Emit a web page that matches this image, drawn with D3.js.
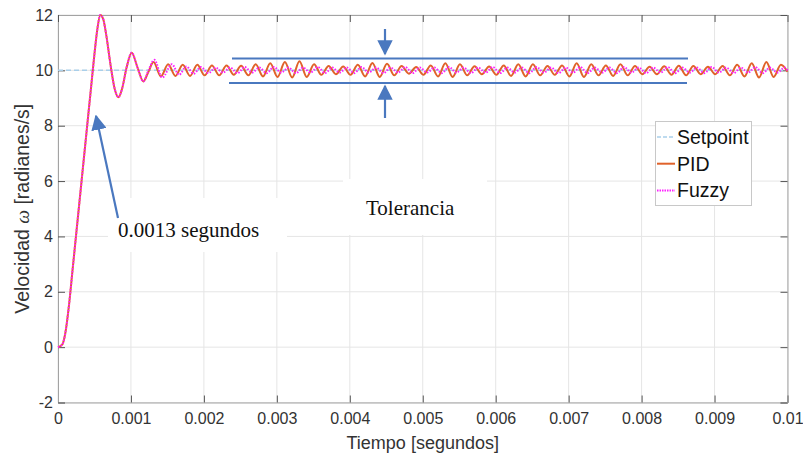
<!DOCTYPE html>
<html>
<head>
<meta charset="utf-8">
<script src="https://cdn.jsdelivr.net/npm/d3@7"></script>
<style>
  body { margin: 0; background: #fff; }
  svg { display: block; }
</style>
</head>
<body>
<div id="chart"></div>
<script>
// ticks
var xTicks = [0, 0.001, 0.002, 0.003, 0.004, 0.005, 0.006, 0.007, 0.008, 0.009, 0.01]
var xTickLabels = ["0", "0.001", "0.002", "0.003", "0.004", "0.005", "0.006", "0.007", "0.008", "0.009", "0.01"]
var yTicks = [-2, 0, 2, 4, 6, 8, 10, 12]
var yTickLabels = ["-2", "0", "2", "4", "6", "8", "10", "12"]

// setpoint (time in ms)
var setpointMs = [0, 10]
var setpointValue = [10, 10]

// PID response, extrema (time in ms)
var pidMs = [0, 0.06, 0.10, 0.15, 0.20, 0.25, 0.30, 0.35, 0.40, 0.45, 0.50, 0.54, 0.58, 0.62, 0.66, 0.72, 0.78, 0.83, 0.88, 0.94, 1.01, 1.09, 1.17, 1.24, 1.31,
  1.41, 1.51, 1.61, 1.71, 1.81, 1.91, 2.01, 2.11, 2.21, 2.31, 2.41, 2.51, 2.61, 2.71, 2.81, 2.91, 3.01, 3.11, 3.21, 3.31,
  3.41, 3.51, 3.61, 3.71, 3.81, 3.91, 4.01, 4.11, 4.21, 4.31, 4.41, 4.51, 4.61, 4.71, 4.81, 4.91, 5.01, 5.11, 5.21, 5.31,
  5.41, 5.51, 5.61, 5.71, 5.81, 5.91, 6.01, 6.11, 6.21, 6.31, 6.41, 6.51, 6.61, 6.71, 6.81, 6.91, 7.01, 7.11, 7.21, 7.31,
  7.41, 7.51, 7.61, 7.71, 7.81, 7.91, 8.01, 8.11, 8.21, 8.31, 8.41, 8.51, 8.61, 8.71, 8.81, 8.91, 9.01, 9.11, 9.21, 9.31,
  9.41, 9.51, 9.61, 9.71, 9.81, 9.91, 10.0]
var pidValue = [0, 0.1, 0.5, 1.5, 2.8, 4.1, 5.4, 6.7, 8.0, 9.3, 10.6, 11.5, 12.0, 11.85, 11.3, 10.2, 9.3, 9.03, 9.35, 10.1, 10.64, 10.1, 9.6, 9.95, 10.3,
  9.78, 10.22, 9.80, 10.20, 9.80, 10.20, 9.82, 10.18, 9.82, 10.18, 9.84, 10.17, 9.82, 10.22, 9.78, 10.26, 9.76, 10.30, 9.74, 10.33,
  9.76, 10.22, 9.84, 10.16, 9.86, 10.14, 9.84, 10.20, 9.78, 10.27, 9.76, 10.24, 9.82, 10.16, 9.88, 10.12, 9.84, 10.18, 9.78, 10.26,
  9.76, 10.22, 9.82, 10.15, 9.86, 10.14, 9.84, 10.18, 9.80, 10.22, 9.78, 10.22, 9.82, 10.16, 9.84, 10.18, 9.78, 10.26, 9.76, 10.22,
  9.82, 10.18, 9.80, 10.22, 9.82, 10.16, 9.86, 10.13, 9.86, 10.15, 9.84, 10.17, 9.82, 10.16, 9.86, 10.13, 9.86, 10.16, 9.82, 10.20,
  9.78, 10.26, 9.74, 10.30, 9.76, 10.20, 9.95]

// Fuzzy response (time in ms)
var fuzzyMs = [0, 0.06, 0.10, 0.15, 0.20, 0.25, 0.30, 0.35, 0.40, 0.45, 0.50, 0.54, 0.58, 0.62, 0.66, 0.72, 0.78, 0.83, 0.88, 0.94, 1.01, 1.09, 1.17, 1.24, 1.32,
  1.43, 1.56, 1.66, 1.76, 1.86, 1.96, 2.06, 2.16, 2.26, 2.36, 2.46, 2.56, 2.66, 2.76, 2.86, 2.96, 3.06, 3.16, 3.26, 3.36,
  3.46, 3.56, 3.66, 3.76, 3.86, 3.96, 4.06, 4.16, 4.26, 4.36, 4.46, 4.56, 4.66, 4.76, 4.86, 4.96, 5.06, 5.16, 5.26, 5.36,
  5.46, 5.56, 5.66, 5.76, 5.86, 5.96, 6.06, 6.16, 6.26, 6.36, 6.46, 6.56, 6.66, 6.76, 6.86, 6.96, 7.06, 7.16, 7.26, 7.36,
  7.46, 7.56, 7.66, 7.76, 7.86, 7.96, 8.06, 8.16, 8.26, 8.36, 8.46, 8.56, 8.66, 8.76, 8.86, 8.96, 9.06, 9.16, 9.26, 9.36,
  9.46, 9.56, 9.66, 9.76, 9.86, 9.96, 10.0]
var fuzzyValue = [0, 0.1, 0.5, 1.5, 2.8, 4.1, 5.4, 6.7, 8.0, 9.3, 10.6, 11.5, 12.0, 11.85, 11.3, 10.2, 9.3, 9.03, 9.35, 10.1, 10.64, 10.1, 9.6, 10.0, 10.38,
  9.74, 10.22, 9.84, 10.14, 9.88, 10.12, 9.90, 10.10, 9.92, 10.10, 9.90, 10.12, 9.92, 10.10, 9.90, 10.12, 9.92, 10.10, 9.90, 10.10,
  9.92, 10.12, 9.90, 10.10, 9.92, 10.10, 9.90, 10.12, 9.92, 10.10, 9.90, 10.10, 9.92, 10.12, 9.90, 10.10, 9.92, 10.10, 9.90, 10.12,
  9.92, 10.10, 9.90, 10.10, 9.92, 10.12, 9.90, 10.10, 9.92, 10.10, 9.90, 10.12, 9.92, 10.10, 9.90, 10.10, 9.92, 10.12, 9.90, 10.10,
  9.92, 10.10, 9.90, 10.12, 9.92, 10.10, 9.90, 10.10, 9.92, 10.12, 9.90, 10.10, 9.92, 10.10, 9.90, 10.12, 9.92, 10.10, 9.90, 10.10,
  9.92, 10.12, 9.90, 10.10, 9.92, 10.10, 10.0]

var seriesNames = ["Setpoint", "PID", "Fuzzy"]

var W = 803, H = 457
var plotL = 58, plotR = 787.5, plotT = 15, plotB = 402.5

var x = d3.scaleLinear().domain([0, 0.01]).range([plotL, plotR])
var y = d3.scaleLinear().domain([-2, 12]).range([plotB, plotT])

var svg = d3.select("#chart").append("svg")
  .attr("width", W).attr("height", H)

function zip(ms, vals) {
  return ms.map(function(t, i) { return {t: t / 1000, v: vals[i]}; })
}

// grid
svg.append("g").selectAll("line").data(xTicks).enter().append("line")
  .attr("x1", function(d) { return x(d); }).attr("x2", function(d) { return x(d); })
  .attr("y1", plotT).attr("y2", plotB)
  .attr("stroke", "#e5e5e5").attr("stroke-width", 1)
svg.append("g").selectAll("line").data(yTicks).enter().append("line")
  .attr("y1", function(d) { return y(d); }).attr("y2", function(d) { return y(d); })
  .attr("x1", plotL).attr("x2", plotR)
  .attr("stroke", "#e5e5e5").attr("stroke-width", 1)

// white callout boxes (they hide the grid)
svg.append("rect").attr("x", 108).attr("y", 198).attr("width", 179).attr("height", 54).attr("fill", "#fff")
svg.append("rect").attr("x", 343).attr("y", 179).attr("width", 144).attr("height", 56).attr("fill", "#fff")

// axes
var xAxis = d3.axisBottom(x).tickValues(xTicks).tickSize(-7).tickPadding(10)
  .tickFormat(function(d, i) { return xTickLabels[i]; })
var yAxis = d3.axisLeft(y).tickValues(yTicks).tickSize(-7).tickPadding(5)
  .tickFormat(function(d, i) { return yTickLabels[i]; })

var gx = svg.append("g").attr("transform", "translate(0," + plotB + ")").call(xAxis)
var gy = svg.append("g").attr("transform", "translate(" + plotL + ",0)").call(yAxis)
svg.append("g").attr("transform", "translate(0," + plotT + ")")
  .call(d3.axisTop(x).tickValues(xTicks).tickSize(-7).tickFormat(""))
svg.append("g").attr("transform", "translate(" + plotR + ",0)")
  .call(d3.axisRight(y).tickValues(yTicks).tickSize(-7).tickFormat(""))

svg.selectAll(".domain").attr("stroke", "#a3a3a3")
svg.selectAll(".tick line").attr("stroke", "#555")
svg.selectAll(".tick text")
  .attr("font-family", "Liberation Sans, Arial, sans-serif")
  .attr("font-size", "16px").attr("fill", "#333")
gx.selectAll(".tick text").attr("dy", "0.72em")

// lines
var line = d3.line().x(function(d) { return x(d.t); }).y(function(d) { return y(d.v); }).curve(d3.curveMonotoneX)

svg.append("path").datum(zip(setpointMs, setpointValue))
  .attr("d", line).attr("fill", "none")
  .attr("stroke", "#a9cfea").attr("stroke-width", 1.5).attr("stroke-dasharray", "5,3")
svg.append("path").datum(zip(pidMs, pidValue))
  .attr("d", line).attr("fill", "none")
  .attr("stroke", "#e0622a").attr("stroke-width", 2)
svg.append("path").datum(zip(fuzzyMs, fuzzyValue))
  .attr("d", line).attr("fill", "none")
  .attr("stroke", "#ff1fff").attr("stroke-width", 2).attr("stroke-dasharray", "1.5,1.5")

// axis titles
svg.append("text")
  .attr("x", (plotL + plotR) / 2).attr("y", 449)
  .attr("text-anchor", "middle")
  .attr("font-family", "Liberation Sans, Arial, sans-serif").attr("font-size", "18px").attr("fill", "#333")
  .text("Tiempo [segundos]")

var yt = svg.append("text")
  .attr("transform", "translate(29," + ((plotT + plotB) / 2) + ") rotate(-90)")
  .attr("text-anchor", "middle")
  .attr("font-family", "Liberation Sans, Arial, sans-serif").attr("font-size", "19.5px").attr("fill", "#333")
yt.append("tspan").text("Velocidad ")
yt.append("tspan").attr("font-family", "Liberation Serif, serif").attr("font-style", "italic").text("ω")
yt.append("tspan").text(" [radianes/s]")

// legend
var lg = svg.append("g")
lg.append("rect").attr("x", 655.5).attr("y", 121.5).attr("width", 96).attr("height", 84)
  .attr("fill", "#fff").attr("stroke", "#c8c8c8")
var legStyle = [
  {color: "#a9cfea", dash: "4,2", width: 1.5},
  {color: "#e0622a", dash: null, width: 2},
  {color: "#ff1fff", dash: "1.5,1", width: 2}
]
seriesNames.forEach(function(name, i) {
  var ly = 137 + i * 26.7
  lg.append("line").attr("x1", 657).attr("x2", 675).attr("y1", ly).attr("y2", ly)
    .attr("stroke", legStyle[i].color).attr("stroke-width", legStyle[i].width)
    .attr("stroke-dasharray", legStyle[i].dash)
  lg.append("text").attr("x", 677).attr("y", ly + 7)
    .attr("font-family", "Liberation Sans, Arial, sans-serif").attr("font-size", "19.5px").attr("fill", "#111")
    .text(name)
})

// annotations
var blue = "#4a78bf"
svg.append("defs").append("marker")
  .attr("id", "head").attr("viewBox", "0 0 10 10").attr("refX", 9).attr("refY", 5)
  .attr("markerWidth", 7).attr("markerHeight", 7).attr("markerUnits", "strokeWidth")
  .attr("orient", "auto")
  .append("path").attr("d", "M0,0 L10,5 L0,10 z").attr("fill", blue)

svg.append("line").attr("x1", 118).attr("y1", 218).attr("x2", 96).attr("y2", 116)
  .attr("stroke", blue).attr("stroke-width", 2.2).attr("marker-end", "url(#head)")

svg.append("line").attr("x1", 232).attr("x2", 688).attr("y1", 58.5).attr("y2", 58.5)
  .attr("stroke", blue).attr("stroke-width", 2)
svg.append("line").attr("x1", 229).attr("x2", 687).attr("y1", 83).attr("y2", 83)
  .attr("stroke", blue).attr("stroke-width", 2)

svg.append("line").attr("x1", 385).attr("y1", 29).attr("x2", 385).attr("y2", 54)
  .attr("stroke", blue).attr("stroke-width", 2.2).attr("marker-end", "url(#head)")
svg.append("line").attr("x1", 385).attr("y1", 118).attr("x2", 385).attr("y2", 86)
  .attr("stroke", blue).attr("stroke-width", 2.2).attr("marker-end", "url(#head)")

svg.append("text").attr("x", 118).attr("y", 237)
  .attr("font-family", "Liberation Serif, Times New Roman, serif").attr("font-size", "21px").attr("fill", "#111")
  .text("0.0013 segundos")
svg.append("text").attr("x", 366).attr("y", 215)
  .attr("font-family", "Liberation Serif, Times New Roman, serif").attr("font-size", "21px").attr("fill", "#111")
  .text("Tolerancia")
</script>
</body>
</html>
